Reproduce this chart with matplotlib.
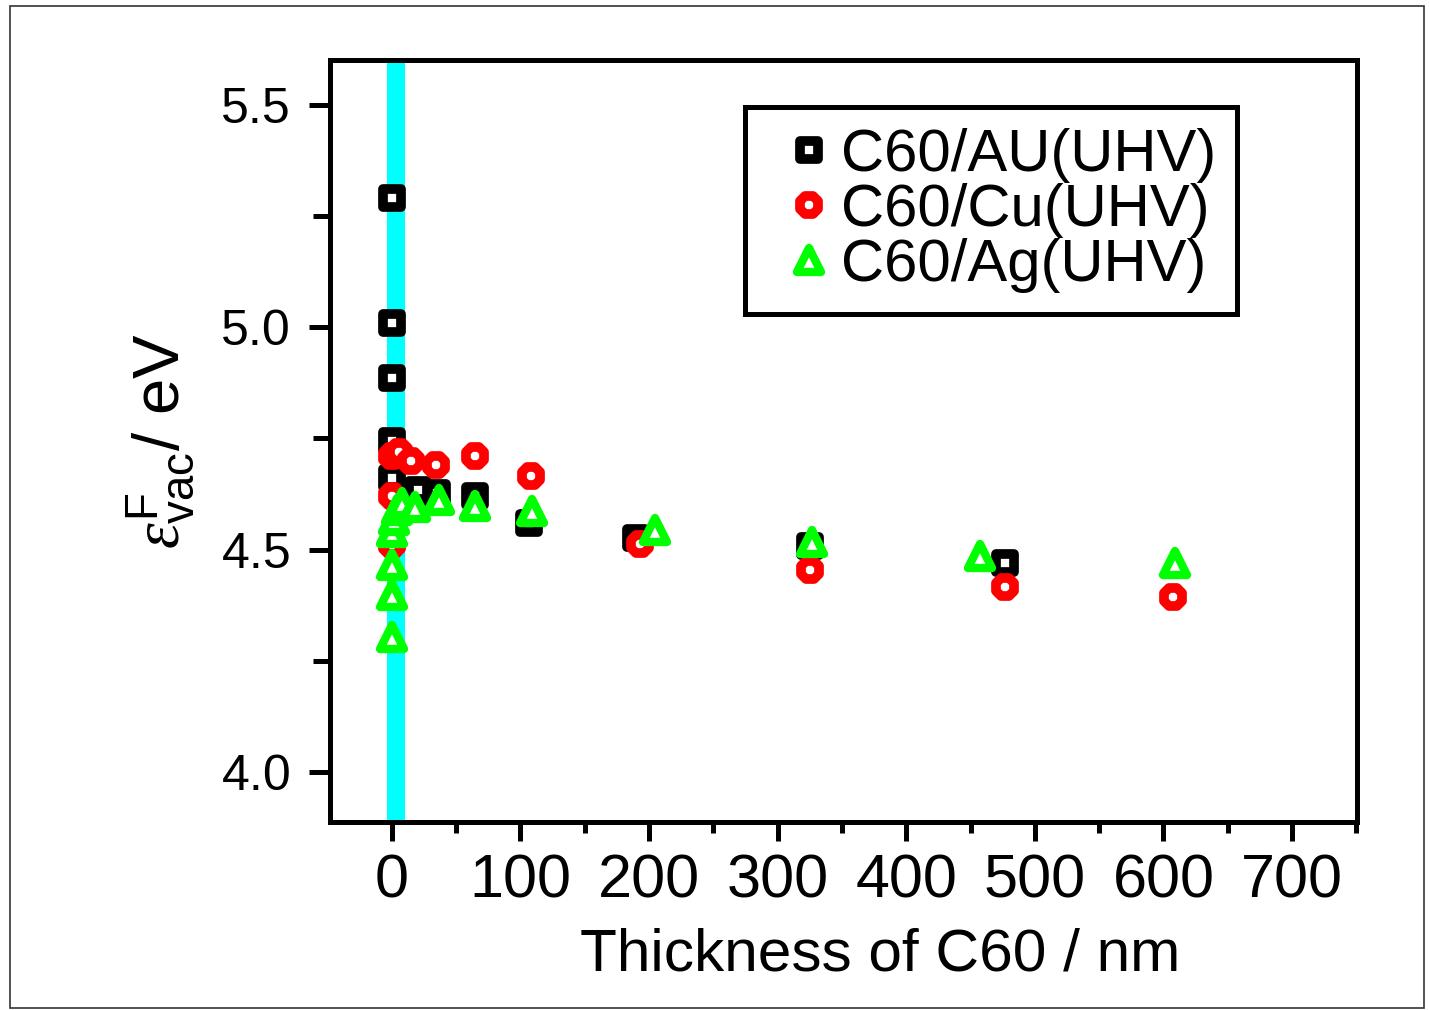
import matplotlib
matplotlib.use("Agg")
from matplotlib import pyplot as plt
from matplotlib.markers import MarkerStyle
from matplotlib.patches import Rectangle
from matplotlib.ticker import MultipleLocator

plt.rcParams['font.family'] = ['Liberation Sans', 'DejaVu Sans']
plt.rcParams['mathtext.fontset'] = 'custom'
plt.rcParams['mathtext.rm'] = 'Liberation Sans'
plt.rcParams['mathtext.it'] = 'Liberation Serif:italic'

# data (thickness in nm, vacuum level in eV)
au_x = [0, 0, 0, 0, 0, 20, 35, 65, 107, 190, 325, 477]
au_y = [5.29, 5.01, 4.885, 4.745, 4.66, 4.634, 4.627, 4.62, 4.56, 4.527, 4.508, 4.47]

cu_x = [0, 0, 0, 6, 15, 34, 65, 108, 193, 325, 477, 607]
cu_y = [4.51, 4.62, 4.71, 4.72, 4.70, 4.69, 4.71, 4.665, 4.512, 4.454, 4.416, 4.393]

ag_x = [0, 0, 0, 0, 2, 4, 8, 18, 37, 65, 109, 205, 327, 457, 609]
ag_y = [4.304, 4.398, 4.465, 4.539, 4.566, 4.589, 4.604, 4.596, 4.611, 4.598,
        4.586, 4.544, 4.517, 4.485, 4.47]

labels = ["C60/AU(UHV)", "C60/Cu(UHV)", "C60/Ag(UHV)"]


def main():
    fig = plt.figure(figsize=(14.3, 10.1), dpi=100)
    ax = fig.add_axes([0.2308, 0.1861, 0.7182, 0.7545])

    # thin frame round the whole picture
    fig.patches.append(Rectangle((0.007, 0.002), 0.989, 0.992, transform=fig.transFigure,
                                 fill=False, edgecolor="#333333", linewidth=1.2))

    ax.axvspan(-4, 10, color="#00FFFF", zorder=1, lw=0)

    common = dict(linestyle="none", markerfacecolor="white", zorder=3)
    ax.plot(au_x, au_y, marker=MarkerStyle("s", joinstyle="round"), color="black",
            markeredgecolor="black", markersize=12.5, markeredgewidth=7,
            label=labels[0], **common)
    ax.plot(cu_x, cu_y, marker=MarkerStyle("8", joinstyle="round"), color="#FF0000",
            markeredgecolor="#FF0000", markersize=14.5, markeredgewidth=7,
            label=labels[1], **common)
    ax.plot(ag_x, ag_y, marker=MarkerStyle("^", joinstyle="round"), color="#00FF00",
            markeredgecolor="#00FF00", markersize=17, markeredgewidth=6,
            label=labels[2], **common)

    ax.set_xlim(-48, 750.5)
    ax.set_ylim(3.888, 5.6)
    ax.xaxis.set_major_locator(MultipleLocator(100))
    ax.xaxis.set_minor_locator(MultipleLocator(50))
    ax.yaxis.set_major_locator(MultipleLocator(0.5))
    ax.yaxis.set_minor_locator(MultipleLocator(0.25))
    ax.yaxis.set_major_formatter(plt.FormatStrFormatter("%.1f"))

    for s in ax.spines.values():
        s.set_linewidth(3.6)
    ax.tick_params(axis="x", which="major", direction="out", length=14, width=3.6,
                   labelsize=44, pad=9)
    ax.tick_params(axis="x", which="minor", direction="out", length=8, width=3.6)
    ax.tick_params(axis="y", which="major", direction="out", length=15, width=3.6,
                   labelsize=36, pad=13)
    ax.tick_params(axis="y", which="minor", direction="out", length=12, width=3.6)

    ax.set_xlabel("Thickness of C60 / nm", fontsize=43.5)
    ax.xaxis.set_label_coords(0.536, -0.138)
    ax.set_ylabel(r"$\varepsilon^{\rm F}_{\rm vac}$/ eV", fontsize=47)
    ax.yaxis.set_label_coords(-0.131, 0.5)

    leg = ax.legend(loc="upper right", bbox_to_anchor=(0.883, 0.938), fontsize=43,
                    frameon=True, fancybox=False, edgecolor="black", framealpha=1,
                    handlelength=1.45, handletextpad=-0.2, labelspacing=0.0,
                    borderpad=0.35, numpoints=1, borderaxespad=0)
    leg.get_frame().set_linewidth(3.6)

    fig.savefig("out.png", dpi=100)


if __name__ == "__main__":
    main()
